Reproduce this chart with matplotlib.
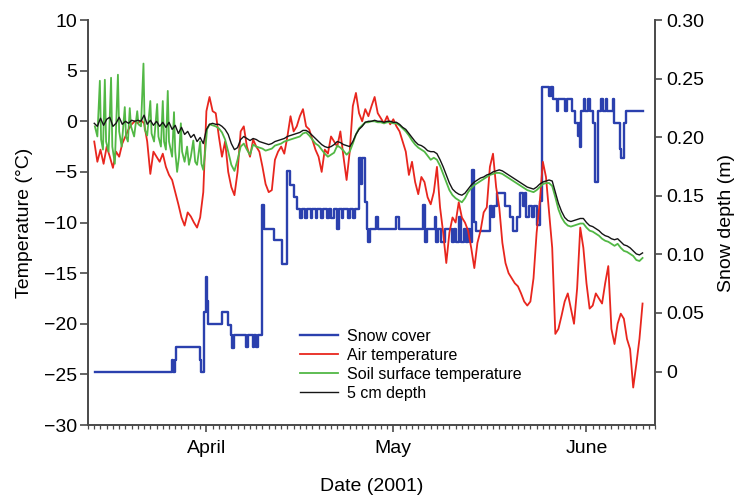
"""
Snow cover, air temperature and soil temperatures, spring 2001.

Temperatures on the left axis, snow depth on a twin right axis.
Values were read off the published figure (half-day resolution for the
air and 5 cm series, irregular break points for the spiky soil surface
trace, step changes for snow depth).
"""

import matplotlib

matplotlib.use("Agg")
import matplotlib.dates as mdates
import matplotlib.pyplot as plt
import numpy as np
import pandas as pd

START = pd.Timestamp("2001-03-13")
END = pd.Timestamp("2001-06-12")

# days after START, every 12 hours
grid_days = np.arange(1.0, 89.01, 0.5)

air_temp = [
    -2.0, -4.0, -2.8, -4.2, -2.5, -3.5, -4.6, -3.0, -3.5, -2.2,
    -1.5, -0.8, -0.3, 0.0, -0.2, 0.1, -0.2, -2.0, -5.2, -3.0,
    -3.5, -4.0, -3.2, -4.5, -5.3, -5.8, -7.0, -8.2, -9.5, -10.3,
    -9.0, -9.4, -10.0, -10.5, -9.5, -7.0, 1.0, 2.4, 1.0, 0.8,
    -1.5, -3.5, -2.0, -5.0, -6.5, -7.3, -5.0, -1.0, -0.5, -2.5,
    -3.5, -1.8, -2.5, -3.0, -4.5, -6.2, -7.0, -6.8, -3.8, -3.0,
    -2.5, -3.2, -1.5, 0.5, -1.0, -0.5, 0.5, 1.2, -0.5, -0.8,
    -1.8, -2.8, -3.5, -5.0, -2.8, -3.2, -1.5, -2.0, -2.5, -1.0,
    -3.5, -5.8, -3.0, 1.5, 2.8, 0.8, 0.0, 1.2, 0.5, 1.5,
    2.4, 0.8, 0.3, -0.2, 0.5, -0.3, 0.2, -0.5, -1.0, -2.0,
    -3.0, -5.3, -4.0, -6.0, -7.2, -5.5, -6.0, -7.5, -8.2, -7.0,
    -4.5, -8.5, -11.0, -14.0, -11.0, -9.5, -10.0, -8.0, -9.5, -10.0,
    -10.8, -12.5, -14.5, -12.0, -10.8, -9.0, -8.5, -4.5, -3.2, -6.5,
    -8.5, -12.0, -14.0, -15.0, -15.5, -16.0, -16.3, -17.0, -17.8, -18.2,
    -17.8, -15.5, -11.0, -8.0, -4.0, -5.5, -9.0, -12.5, -21.0, -20.5,
    -19.2, -17.8, -17.0, -18.5, -20.0, -16.5, -10.5, -12.5, -16.0, -18.5,
    -18.2, -17.0, -17.5, -18.0, -16.0, -14.3, -20.5, -22.0, -20.0, -19.0,
    -19.5, -21.5, -22.5, -26.3, -24.0, -21.5, -18.0,
]

depth5_temp = [
    -0.2, -0.5, 0.3, -0.4, 0.2, 0.4, -0.5, -0.2, 0.4, -0.3,
    0.0, -0.2, 0.1, 0.0, 0.1, 0.0, 0.6, -0.3, 0.1, -0.4,
    0.0, -0.5, -0.1, -0.6, -0.1, -0.8, -0.4, -1.2, -0.6, -1.3,
    -1.0, -1.6, -1.3, -2.0, -1.6, -2.2, -0.8, -0.3, -0.2, -0.3,
    -0.3, -0.5, -0.8, -1.3, -2.2, -2.8, -2.6, -1.8, -1.5, -1.7,
    -1.9, -1.7, -1.8, -2.0, -2.1, -2.2, -2.3, -2.2, -2.0, -1.9,
    -1.8, -1.7, -1.5, -1.4, -1.3, -1.2, -1.1, -0.9, -0.9, -1.1,
    -1.4, -1.7, -2.0, -2.3, -2.5, -2.6, -2.5, -2.3, -2.0, -2.1,
    -2.3, -2.4, -2.5, -2.0, -1.3, -0.8, -0.5, -0.1, 0.0, 0.0,
    0.1, 0.0, 0.0, -0.1, 0.0, 0.0, -0.1, -0.1, -0.3, -0.6,
    -0.8, -1.2, -1.6, -2.0, -2.3, -2.4, -2.6, -2.9, -3.0, -3.0,
    -3.2, -3.8, -4.5, -5.3, -6.1, -6.7, -7.0, -7.2, -7.3, -7.1,
    -6.7, -6.3, -6.0, -5.8, -5.6, -5.5, -5.3, -5.2, -5.0, -4.9,
    -4.8, -4.9, -5.1, -5.3, -5.5, -5.7, -5.9, -6.1, -6.3, -6.5,
    -6.6, -6.7, -6.5, -6.2, -6.0, -5.9, -5.8, -5.9, -7.0, -8.1,
    -8.9, -9.5, -9.8, -9.9, -9.8, -9.7, -9.6, -9.6, -10.0, -10.3,
    -10.4, -10.6, -10.8, -11.1, -11.3, -11.4, -11.6, -11.7, -11.6, -11.9,
    -12.2, -12.3, -12.5, -12.8, -13.1, -13.2, -13.0,
]

soil_days = [
    1.1, 1.5, 1.9, 2.1, 2.4, 2.7, 2.9, 3.3, 3.7, 3.9,
    4.3, 4.8, 5.0, 5.4, 5.9, 6.1, 6.4, 6.7, 6.9, 7.4,
    7.9, 8.1, 8.5, 8.9, 9.1, 9.5, 10.0, 10.2, 10.6, 11.1,
    11.3, 11.7, 12.0, 12.2, 12.5, 12.8, 13.0, 13.5, 13.8, 14.0,
    14.3, 14.6, 14.9, 15.1, 15.5, 15.9, 16.2, 16.5, 16.9, 17.2,
    17.5, 18.0, 18.2, 18.5, 18.8, 19.1,
] + list(np.arange(19.5, 89.01, 0.5))

soil_temp = [
    -0.5, -1.5, 4.0, -1.8, -2.8, 4.1, -2.0, -3.0, 4.3, -2.5,
    -4.2, 4.6, -1.0, -2.5, 1.4, -1.5, -2.0, 1.3, -0.5, -1.5,
    1.0, -0.3, -0.5, 5.7, -0.8, -1.4, 2.0, -1.2, -2.0, 1.7,
    -1.5, -2.5, 2.0, -2.0, -2.8, 3.0, -2.0, -3.5, 0.9, -3.0,
    -5.0, -3.5, -0.2, -3.0, -4.0, -2.5, -4.3, -3.5, -1.9, -4.0,
    -4.3, -2.0, -4.2, -4.8, -3.0, -0.8,
    -0.3, -0.4, -0.5, -0.7, -1.1, -1.8, -3.0, -4.3, -4.9, -3.8,
    -2.5, -2.2, -2.8, -3.3, -2.3, -2.5, -2.6, -2.7, -2.9, -2.8,
    -2.7, -2.4, -2.3, -2.2, -2.0, -1.9, -1.8, -1.7, -1.6, -1.5,
    -1.2, -1.1, -1.4, -1.8, -2.2, -2.4, -2.8, -3.2, -3.5, -3.3,
    -3.1, -2.4, -2.6, -2.9, -3.3, -3.0, -2.2, -1.3, -0.7, -0.4,
    -0.1, -0.1, 0.0, 0.0, -0.1, -0.1, -0.2, -0.1, -0.1, -0.2,
    -0.2, -0.4, -0.7, -1.0, -1.4, -1.9, -2.3, -2.6, -2.8, -3.0,
    -3.4, -3.8, -3.6, -3.8, -4.4, -5.2, -6.0, -6.8, -7.3, -7.6,
    -7.8, -8.0, -7.6, -7.0, -6.6, -6.3, -6.1, -5.9, -5.7, -5.5,
    -5.3, -5.2, -5.1, -5.1, -5.2, -5.4, -5.6, -5.8, -6.0, -6.2,
    -6.4, -6.6, -6.8, -6.9, -7.0, -6.8, -6.5, -6.2, -6.1, -6.1,
    -6.4, -7.5, -8.7, -9.5, -10.0, -10.3, -10.4, -10.3, -10.2, -10.1,
    -10.1, -10.5, -10.8, -10.9, -11.1, -11.3, -11.6, -11.8, -11.9, -12.1,
    -12.3, -12.1, -12.5, -12.8, -12.9, -13.1, -13.3, -13.7, -13.8, -13.5,
]

# snow depth (m), each value holds until the next change day
snow_days = [
    1.1, 13.5, 13.7, 13.9, 14.2, 18.0, 18.1, 18.6, 18.9, 19.1,
    19.3, 21.5, 22.4, 22.9, 23.1, 23.4, 25.4, 25.6, 26.4, 26.6,
    27.0, 27.3, 27.9, 28.3, 29.8, 31.2, 32.0, 32.4, 33.0, 33.5,
    34.0, 34.3, 34.9, 35.2, 35.8, 36.0, 36.6, 36.8, 37.4, 37.7,
    38.3, 38.6, 39.0, 39.4, 40.0, 40.3, 40.8, 41.0, 41.8, 42.1,
    42.6, 42.9, 43.5, 43.8, 44.0, 44.4, 44.7, 45.0, 45.2, 46.2,
    46.5, 49.5, 49.9, 53.8, 54.1, 54.4, 55.7, 55.9, 56.2, 56.7,
    57.3, 58.4, 58.8, 59.0, 59.6, 59.9, 60.4, 60.6, 61.0, 61.3,
    61.6, 62.0, 62.2, 64.5, 64.9, 65.2, 65.6, 66.9, 67.7, 68.2,
    68.8, 69.3, 69.8, 70.1, 70.3, 70.7, 71.2, 71.5, 72.0, 72.5,
    72.9, 74.0, 74.3, 74.7, 75.2, 75.5, 76.6, 76.9, 77.7, 78.2,
    78.6, 78.8, 79.0, 79.2, 79.6, 79.8, 80.3, 80.5, 81.1, 81.3,
    81.9, 82.4, 82.6, 83.1, 83.3, 84.2, 84.4, 85.3, 85.6, 86.0,
    86.4, 89.1,
]

snow_depth = [
    0.0, 0.010, 0.0, 0.010, 0.021, 0.010, 0.0, 0.051, 0.081, 0.060,
    0.041, 0.051, 0.040, 0.031, 0.020, 0.031, 0.021, 0.031, 0.021, 0.031,
    0.021, 0.031, 0.142, 0.122, 0.112, 0.092, 0.171, 0.159, 0.149, 0.139,
    0.131, 0.139, 0.131, 0.139, 0.131, 0.139, 0.131, 0.139, 0.131, 0.139,
    0.131, 0.139, 0.131, 0.139, 0.122, 0.139, 0.131, 0.139, 0.131, 0.139,
    0.131, 0.139, 0.182, 0.160, 0.182, 0.145, 0.122, 0.111, 0.122, 0.132,
    0.122, 0.132, 0.122, 0.142, 0.111, 0.122, 0.132, 0.111, 0.122, 0.111,
    0.122, 0.111, 0.122, 0.111, 0.132, 0.111, 0.122, 0.111, 0.122, 0.111,
    0.172, 0.128, 0.120, 0.141, 0.132, 0.141, 0.152, 0.141, 0.132, 0.120,
    0.132, 0.152, 0.141, 0.152, 0.132, 0.141, 0.132, 0.141, 0.125, 0.146,
    0.243, 0.235, 0.243, 0.233, 0.222, 0.233, 0.222, 0.233, 0.222, 0.212,
    0.201, 0.212, 0.192, 0.222, 0.233, 0.222, 0.233, 0.222, 0.212, 0.162,
    0.222, 0.233, 0.222, 0.233, 0.222, 0.233, 0.212, 0.190, 0.182, 0.212,
    0.222, 0.222,
]

temp_ticks = [-30, -25, -20, -15, -10, -5, 0, 5, 10]
snow_ticks = [0.0, 0.05, 0.10, 0.15, 0.20, 0.25, 0.30]

BLUE = "#2b40ae"
RED = "#e8261e"
GREEN = "#52b845"
BLACK = "#151515"
SPINE = "#4a4a4a"


def to_dates(days):
    return START + pd.to_timedelta(np.asarray(days, dtype=float), unit="D")


def main():
    assert len(air_temp) == len(grid_days) == len(depth5_temp)
    assert len(soil_days) == len(soil_temp)
    assert len(snow_days) == len(snow_depth)

    plt.rcParams["font.family"] = ["Liberation Sans", "DejaVu Sans"]

    fig = plt.figure(figsize=(7.44, 4.96), dpi=100)
    ax = fig.add_axes([0.1183, 0.1431, 0.7621, 0.8165])
    ax2 = ax.twinx()
    # temperatures drawn over the snow trace
    ax.set_zorder(ax2.get_zorder() + 1)
    ax.patch.set_visible(False)

    snow_line, = ax2.plot(to_dates(snow_days), snow_depth, drawstyle="steps-post",
                          color=BLUE, lw=1.7, label="Snow cover")
    air_line, = ax.plot(to_dates(grid_days), air_temp, color=RED, lw=1.3,
                        label="Air temperature")
    soil_line, = ax.plot(to_dates(soil_days), soil_temp, color=GREEN, lw=1.3,
                         label="Soil surface temperature")
    deep_line, = ax.plot(to_dates(grid_days), depth5_temp, color=BLACK, lw=1.0,
                         label="5 cm depth")

    ax.set_xlim(START, END)
    ax.set_ylim(-30, 10)
    ax2.set_ylim(-0.0456, 0.30)

    ax.set_yticks(temp_ticks)
    ax2.set_yticks(snow_ticks)
    ax2.set_yticklabels(["0" if v == 0 else f"{v:.2f}" for v in snow_ticks])

    ax.xaxis.set_major_locator(mdates.MonthLocator())
    ax.xaxis.set_major_formatter(mdates.DateFormatter("%B"))
    ax.xaxis.set_minor_locator(mdates.DayLocator())

    for a in (ax, ax2):
        a.spines["top"].set_visible(False)
        for s in a.spines.values():
            s.set_color(SPINE)
            s.set_linewidth(1.4)
    ax.spines["right"].set_visible(False)
    ax2.spines["left"].set_visible(False)
    ax2.spines["bottom"].set_visible(False)

    ax.tick_params(axis="y", which="major", length=6, width=1.2, color=SPINE,
                   labelsize=14, pad=2)
    ax.tick_params(axis="x", which="major", length=5, width=1.2, color=SPINE,
                   labelsize=14, pad=6)
    ax.tick_params(axis="x", which="minor", length=3, width=0.9, color=SPINE)
    ax2.tick_params(axis="y", which="major", length=5, width=1.2, color=SPINE,
                    labelsize=14, pad=3)

    ax.set_xlabel("Date (2001)", fontsize=14, labelpad=15)
    ax.set_ylabel("Temperature (°C)", fontsize=14, labelpad=8)
    ax2.set_ylabel("Snow depth (m)", fontsize=14, labelpad=10)

    ax.legend(handles=[snow_line, air_line, soil_line, deep_line],
              loc="upper left", bbox_to_anchor=(0.374, 0.237), frameon=False,
              fontsize=11.5, borderpad=0, borderaxespad=0, handlelength=2.4,
              handletextpad=0.55, labelspacing=0.25)

    fig.savefig("out.png", dpi=100)
    plt.close(fig)


if __name__ == "__main__":
    main()
